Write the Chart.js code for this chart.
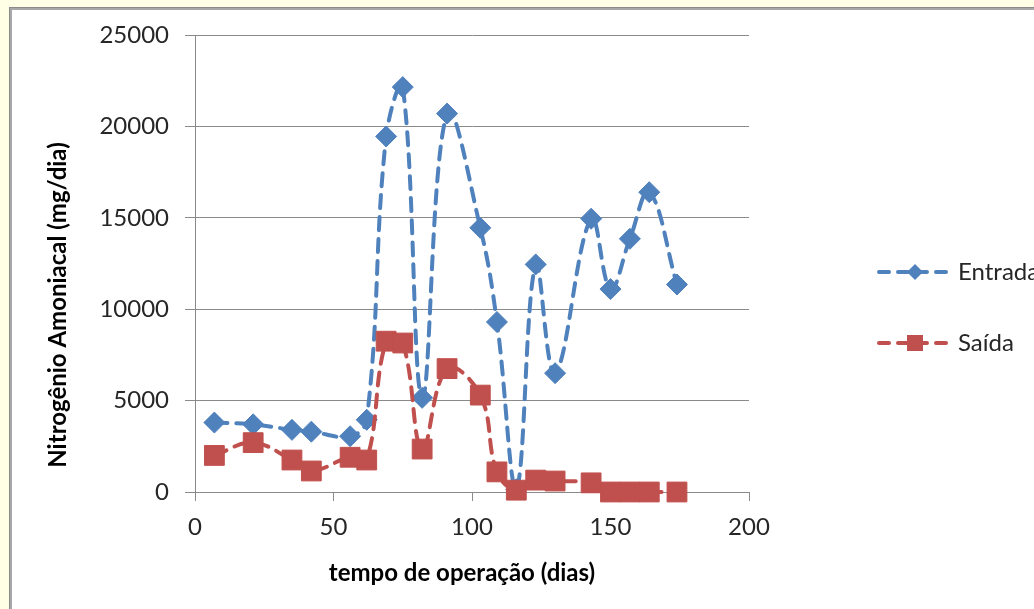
<!DOCTYPE html>
<html>
<head>
<meta charset="utf-8">
<script src="https://cdn.jsdelivr.net/npm/chart.js@4/dist/chart.umd.min.js"></script>
<style>
  html, body { margin: 0; padding: 0; background: #ffffe6; overflow: hidden; }
  #wrap { width: 1034px; height: 609px; position: relative; }
  canvas { display: block; }
</style>
</head>
<body>
<div id="wrap"><canvas id="c" width="1034" height="609"></canvas></div>
<script>
// Operating day of each sample
const days = [7, 21, 35, 42, 56, 62, 69, 75, 82, 91, 103, 109, 116, 123, 130, 143, 150, 157, 164, 174];
// Ammonia nitrogen load, mg/day
const entrada = [3800, 3700, 3400, 3300, 3050, 3950, 19450, 22150, 5150, 20700, 14450, 9300, 150, 12450, 6500, 14950, 11100, 13850, 16400, 11350];
const saida   = [2000, 2700, 1750, 1150, 1900, 1750, 8250, 8150, 2350, 6750, 5300, 1100, 100, 650, 600, 500, 0, 0, 0, 0];
const xTicks = [0, 50, 100, 150, 200];
const yTicks = [0, 5000, 10000, 15000, 20000, 25000];
const seriesNames = ['Entrada', 'Saída'];
const xTitle = 'tempo de operação (dias)';
const yTitle = 'Nitrogênio Amoniacal (mg/dia)';

const BLUE = '#4f81bd';
const RED = '#c0504d';
const GRID = '#8a8a8a';
const TEXT = '#262626';
const FONT = 'Lato, "Liberation Sans", sans-serif';

const toPoints = vals => days.map((d, i) => ({ x: d, y: vals[i] }));

// Sheet-like frame behind the chart
const framePlugin = {
  id: 'frame',
  beforeDraw(chart) {
    const { ctx, width, height } = chart;
    ctx.save();
    ctx.fillStyle = '#ffffe6';
    ctx.fillRect(0, 0, width, height);
    ctx.fillStyle = '#8a8a8a';
    ctx.fillRect(9, 7, width, height);
    ctx.fillStyle = '#a8a8a8';
    ctx.fillRect(10, 8, width, height);
    ctx.fillStyle = '#ffffff';
    ctx.fillRect(12, 10, width, height);
    ctx.restore();
  }
};

// Axis titles
const titlesPlugin = {
  id: 'axisTitles',
  afterDraw(chart) {
    const { ctx } = chart;
    ctx.save();
    ctx.fillStyle = '#000000';
    ctx.font = 'bold 24px ' + FONT;
    ctx.textAlign = 'center';
    ctx.textBaseline = 'middle';
    ctx.fillText(xTitle, 462, 573);
    ctx.translate(58, 305);
    ctx.rotate(-Math.PI / 2);
    ctx.fillText(yTitle, 0, 0);
    ctx.restore();
  }
};

// Legend to the right of the plot
const legendPlugin = {
  id: 'sideLegend',
  afterDraw(chart) {
    const { ctx } = chart;
    chart.data.datasets.forEach((ds, i) => {
      const y = 272 + i * 71;
      ctx.save();
      ctx.strokeStyle = ds.borderColor;
      ctx.lineWidth = 4;
      ctx.lineCap = 'round';
      ctx.setLineDash([10, 9]);
      ctx.beginPath();
      ctx.moveTo(879, y);
      ctx.lineTo(950, y);
      ctx.stroke();
      ctx.setLineDash([]);
      ctx.fillStyle = ds.backgroundColor;
      ctx.beginPath();
      const cx = 915;
      if (ds.pointStyle === 'rectRot') {
        const r = 8;
        ctx.moveTo(cx, y - r); ctx.lineTo(cx + r, y); ctx.lineTo(cx, y + r); ctx.lineTo(cx - r, y);
        ctx.closePath();
      } else {
        const h = 8;
        ctx.rect(cx - h, y - h, 2 * h, 2 * h);
      }
      ctx.fill();
      ctx.fillStyle = TEXT;
      ctx.font = '24px ' + FONT;
      ctx.textAlign = 'left';
      ctx.textBaseline = 'middle';
      ctx.fillText(ds.label, 958, y);
      ctx.restore();
    });
  }
};

const lineStyle = {
  borderWidth: 4,
  borderDash: [13, 9],
  borderCapStyle: 'round',
  tension: 0.4,
  pointBorderWidth: 1,
  clip: false
};

new Chart(document.getElementById('c'), {
  type: 'line',
  data: {
    datasets: [
      Object.assign({
        label: seriesNames[0],
        data: toPoints(entrada),
        borderColor: BLUE,
        backgroundColor: BLUE,
        pointBackgroundColor: BLUE,
        pointBorderColor: BLUE,
        pointStyle: 'rectRot',
        pointRadius: 10.5,
        order: 1
      }, lineStyle),
      Object.assign({
        label: seriesNames[1],
        data: toPoints(saida),
        borderColor: RED,
        backgroundColor: RED,
        pointBackgroundColor: RED,
        pointBorderColor: RED,
        pointStyle: 'rect',
        pointRadius: 14,
        order: 0
      }, lineStyle)
    ]
  },
  options: {
    responsive: false,
    animation: false,
    layout: { padding: { left: 0, top: 35, right: 285, bottom: 0 } },
    plugins: { legend: { display: false }, tooltip: { enabled: false } },
    scales: {
      x: {
        type: 'linear',
        position: 'bottom',
        min: 0,
        max: 200,
        afterBuildTicks: s => { s.ticks = xTicks.map(v => ({ value: v })); },
        afterFit: s => { s.height = 117; },
        grid: { drawOnChartArea: false, drawTicks: true, tickLength: 9, color: GRID },
        border: { display: true, color: GRID },
        ticks: { color: TEXT, font: { family: FONT, size: 24 }, padding: 12, maxRotation: 0, callback: v => String(v) }
      },
      y: {
        type: 'linear',
        min: 0,
        max: 25000,
        afterBuildTicks: s => { s.ticks = yTicks.map(v => ({ value: v })); },
        afterFit: s => { s.width = 195; },
        grid: { color: GRID, tickLength: 10, drawTicks: true },
        border: { display: true, color: GRID },
        ticks: { color: TEXT, font: { family: FONT, size: 24 }, padding: 16, callback: v => String(v) }
      }
    }
  },
  plugins: [framePlugin, titlesPlugin, legendPlugin]
});
</script>
</body>
</html>
